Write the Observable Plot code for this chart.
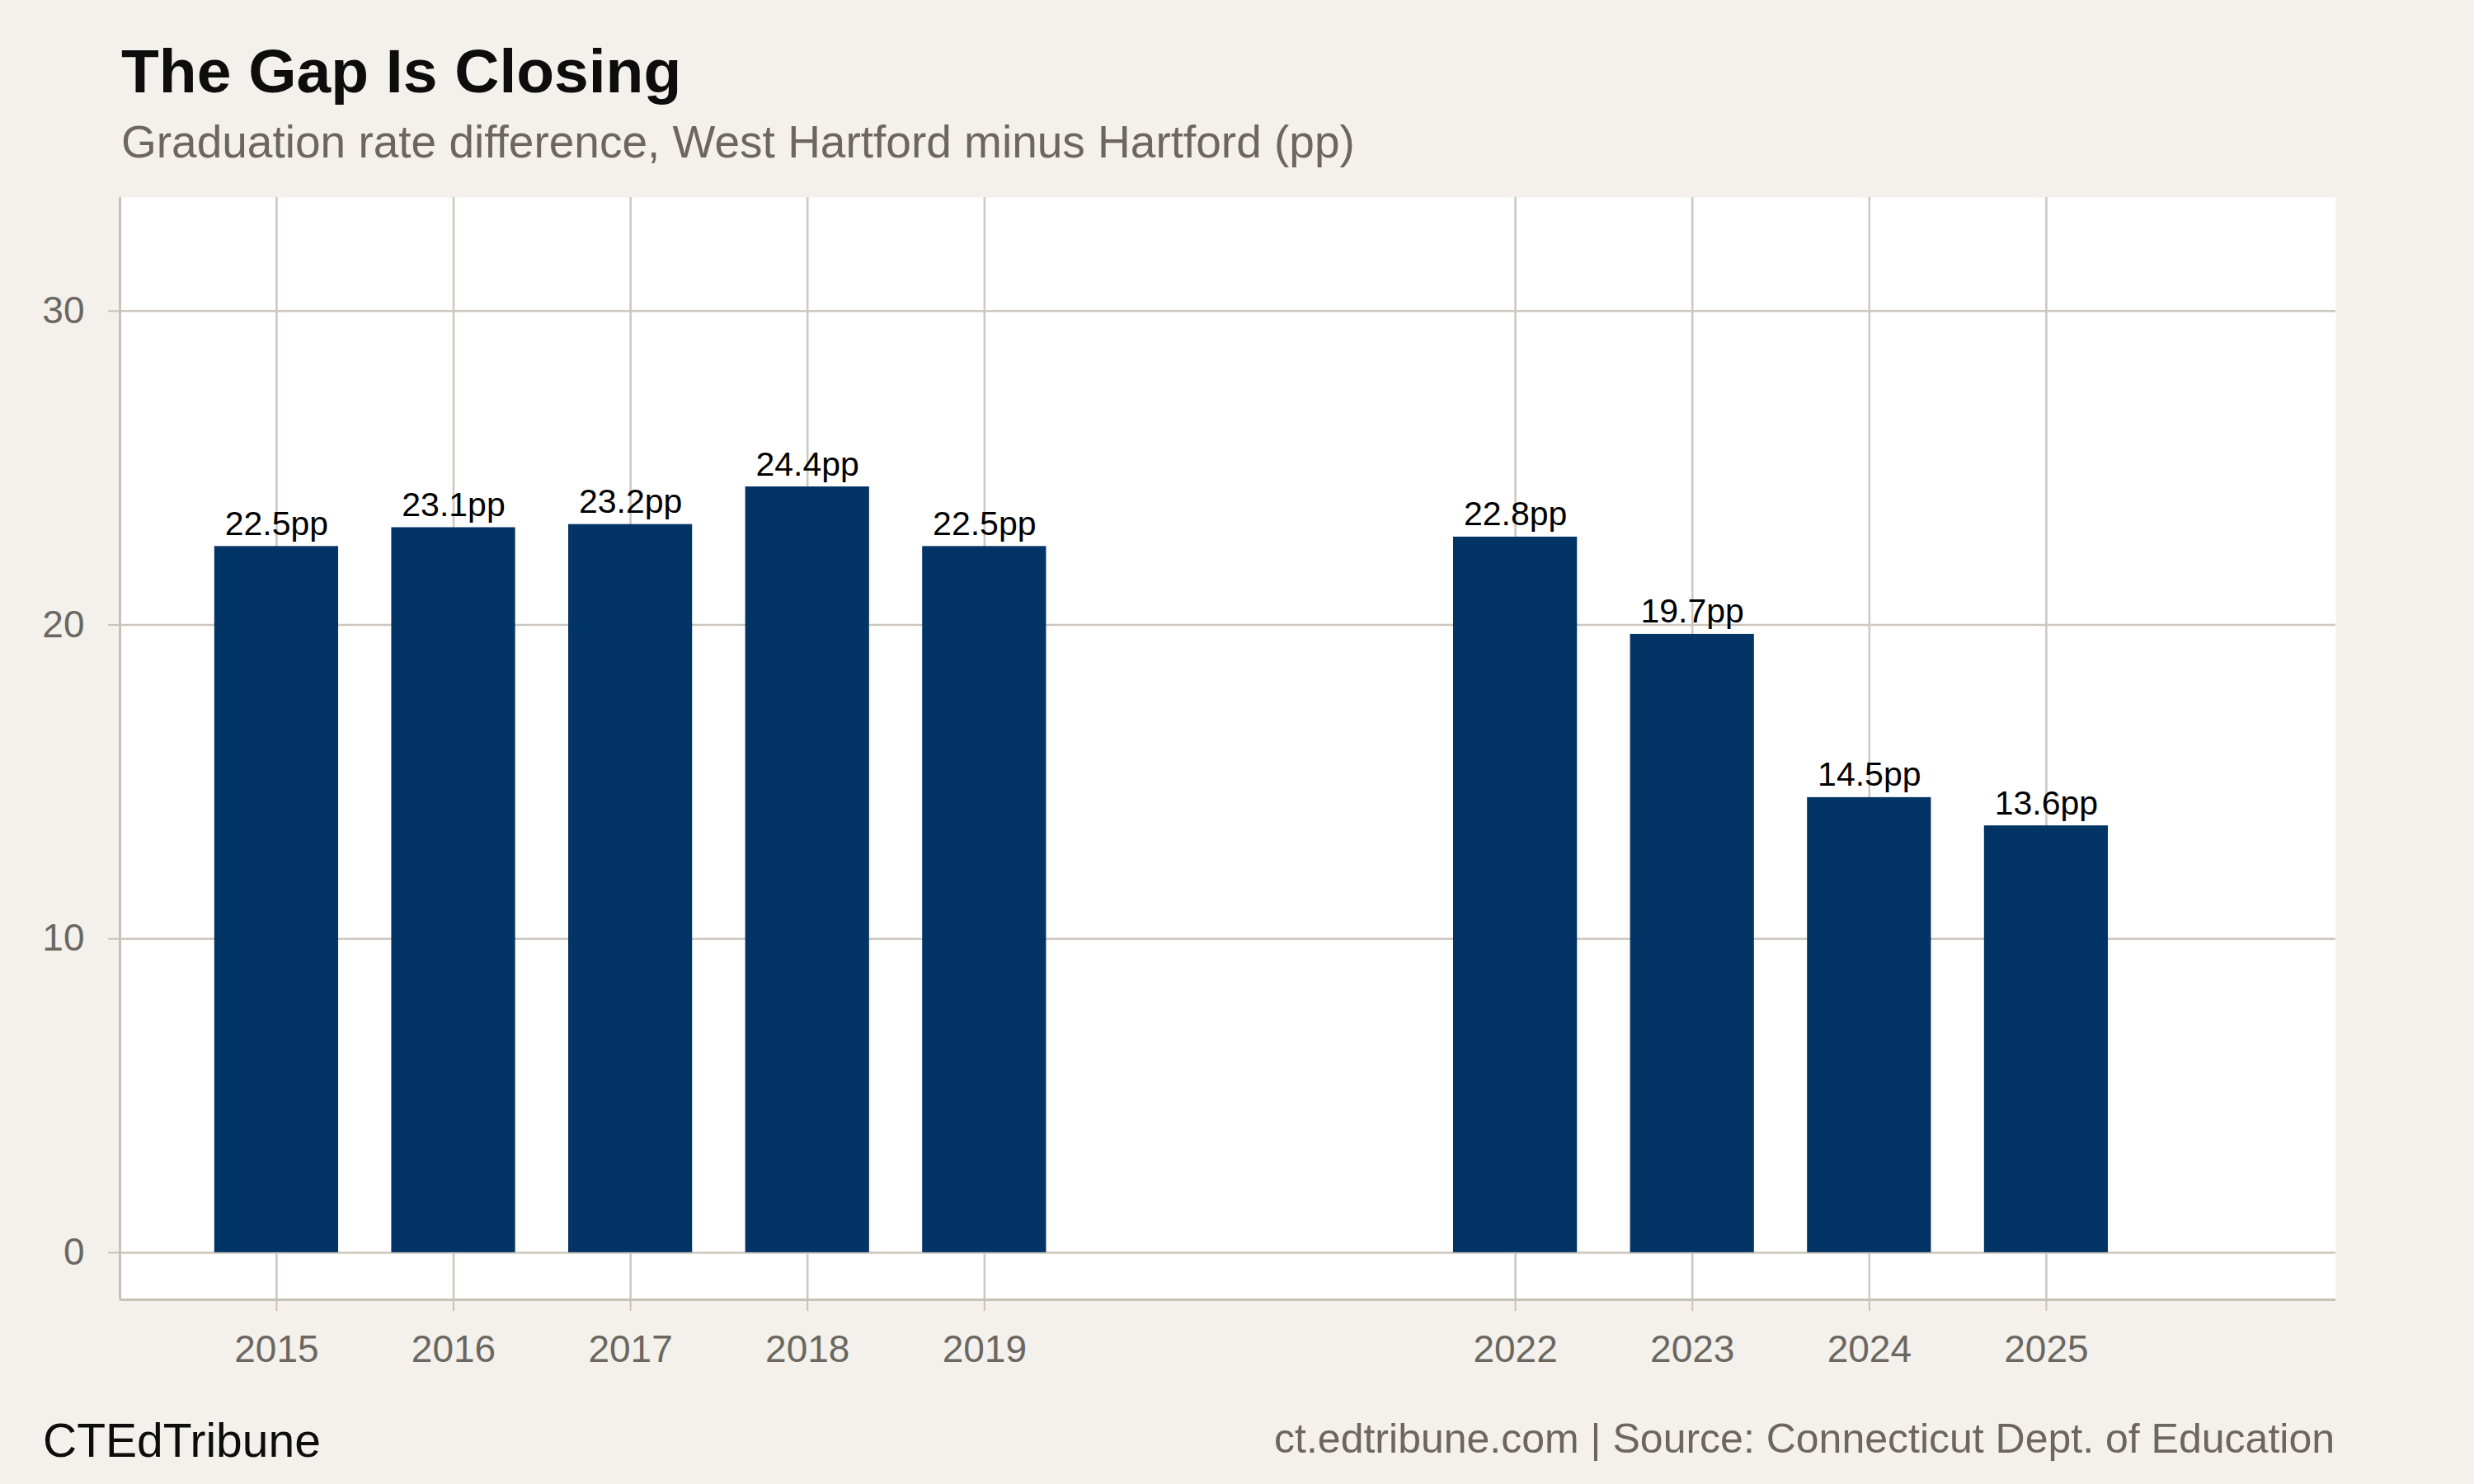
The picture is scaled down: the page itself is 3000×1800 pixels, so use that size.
<!DOCTYPE html>
<html><head><meta charset="utf-8">
<script src="https://cdn.jsdelivr.net/npm/d3@7"></script>
<script src="https://cdn.jsdelivr.net/npm/@observablehq/plot@0.6"></script>
<style>
html,body{margin:0;padding:0;background:#f4f1ec;}
#wrap{position:relative;width:3000px;height:1800px;background:#f4f1ec;font-family:"Liberation Sans",Arial,Helvetica,sans-serif;overflow:hidden;}
.t{position:absolute;line-height:1;white-space:nowrap;}
#chart{position:absolute;left:0;top:219px;}
#chart svg{overflow:visible;}
</style></head><body>
<div id="wrap">
  <div class="t" style="left:147px;top:49px;font-size:75px;font-weight:bold;color:#0d0d0d">The Gap Is Closing</div>
  <div class="t" style="left:147px;top:145px;font-size:55px;color:#6b6760">Graduation rate difference, West Hartford minus Hartford (pp)</div>
  <div id="chart"></div>
  <div class="t" style="left:52px;top:1719px;font-size:57px;color:#0d0d0d">CTEdTribune</div>
  <div class="t" style="right:169px;top:1720px;font-size:50px;color:#6b6760">ct.edtribune.com | Source: Connecticut Dept. of Education</div>
</div>
<script>
const years = [2015, 2016, 2017, 2018, 2019, 2022, 2023, 2024, 2025];
const gaps = [22.5, 23.1, 23.2, 24.4, 22.5, 22.8, 19.7, 14.5, 13.6];
const yTicks = [0, 10, 20, 30];
const xDomain = [2014.115, 2026.636];
const yDomain = [-1.5, 33.62];
const barWidth = 0.7;

const data = years.map((year, i) => ({year, value: gaps[i]}));
const grid = "#cdc7bd";
const axisLine = "#c8c2b8";
const tickText = "#6b6760";

const chart = Plot.plot({
  width: 3000,
  height: 1457,
  marginTop: 20,
  marginBottom: 100,
  marginLeft: 145,
  marginRight: 168,
  style: {background: "transparent", fontFamily: "'Liberation Sans', Arial, Helvetica, sans-serif", overflow: "visible"},
  x: {type: "linear", domain: xDomain},
  y: {domain: yDomain},
  marks: [
    Plot.frame({fill: "white", stroke: "none"}),
    Plot.gridX(years, {stroke: grid, strokeOpacity: 1, strokeWidth: 2.5}),
    Plot.gridY(yTicks, {stroke: grid, strokeOpacity: 1, strokeWidth: 2.5}),
    Plot.ruleX([xDomain[0]], {stroke: axisLine, strokeWidth: 3}),
    Plot.ruleY([yDomain[0]], {stroke: axisLine, strokeWidth: 3}),
    Plot.axisX(years, {tickSize: 14, tickPadding: 29, tickFormat: "d", stroke: axisLine, strokeWidth: 2, fill: tickText, fontSize: 46, label: null}),
    Plot.axisY(yTicks, {tickSize: 14, tickPadding: 29, tickFormat: "d", stroke: axisLine, strokeWidth: 2, fill: tickText, fontSize: 46, label: null}),
    Plot.rectY(data, {x1: d => d.year - barWidth / 2, x2: d => d.year + barWidth / 2, y1: 0, y2: "value", fill: "#023466"}),
    Plot.text(data, {x: "year", y: "value", text: d => d.value.toFixed(1) + "pp", dy: -14, lineAnchor: "bottom", fontSize: 41, fill: "#000"})
  ]
});
document.getElementById("chart").appendChild(chart);
</script>
</body></html>
